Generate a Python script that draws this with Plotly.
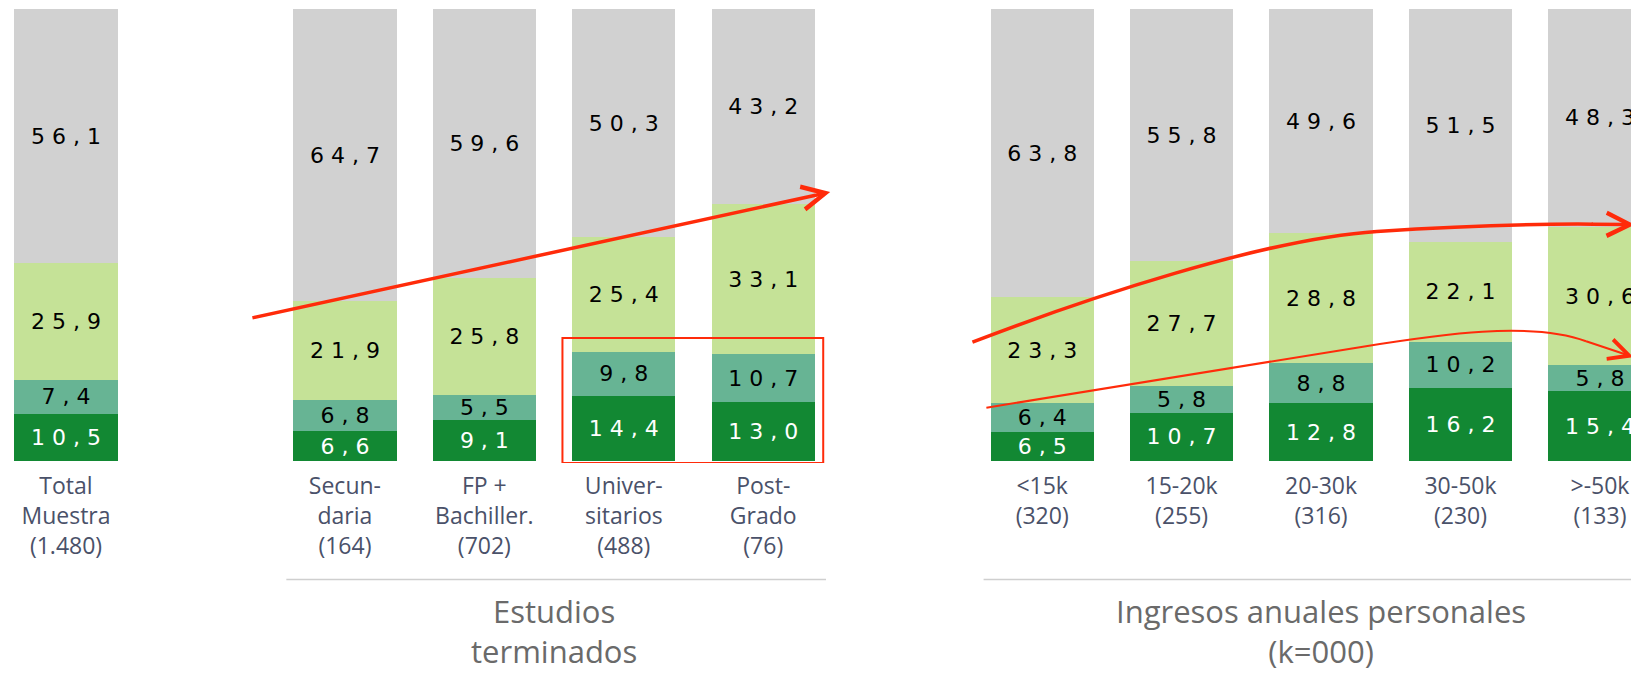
import plotly.graph_objects as go

# --- data -------------------------------------------------------------
labels = [
    "Total<br>Muestra<br>(1.480)",
    "Secun-<br>daria<br>(164)",
    "FP +<br>Bachiller.<br>(702)",
    "Univer-<br>sitarios<br>(488)",
    "Post-<br>Grado<br>(76)",
    "<15k<br>(320)",
    "15-20k<br>(255)",
    "20-30k<br>(316)",
    "30-50k<br>(230)",
    ">-50k<br>(133)",
]
group_sizes = [1, 4, 5]
group_titles = ["", "Estudios<br>terminados", "Ingresos anuales personales<br>(k=000)"]

seg_dark = [10.5, 6.6, 9.1, 14.4, 13.0, 6.5, 10.7, 12.8, 16.2, 15.4]
seg_teal = [7.4, 6.8, 5.5, 9.8, 10.7, 6.4, 5.8, 8.8, 10.2, 5.8]
seg_light = [25.9, 21.9, 25.8, 25.4, 33.1, 23.3, 27.7, 28.8, 22.1, 30.6]
seg_grey = [56.1, 64.7, 59.6, 50.3, 43.2, 63.8, 55.8, 49.6, 51.5, 48.3]

COLORS = {
    "dark": "#128833",
    "teal": "#67B494",
    "light": "#C5E297",
    "grey": "#D1D1D1",
    "red": "#FF2B0A",
    "tick": "#4A5169",
    "title": "#6A6A6A",
}

# x positions: one empty slot between groups
positions = []
group_pos = []
p = 0
for n in group_sizes:
    grp = list(range(p, p + n))
    positions += grp
    group_pos.append(grp)
    p += n + 1


def fmt(v):
    # comma decimals, tracked out like the original slide
    s = f"{v:.1f}".replace(".", ",")
    return "\u00a0".join(s)


fig = go.Figure()
series = [
    ("Segmento 1", seg_dark, COLORS["dark"], "white"),
    ("Segmento 2", seg_teal, COLORS["teal"], "black"),
    ("Segmento 3", seg_light, COLORS["light"], "black"),
    ("Segmento 4", seg_grey, COLORS["grey"], "black"),
]
for name, vals, col, txtcol in series:
    fig.add_trace(go.Bar(
        x=positions,
        y=vals,
        name=name,
        width=0.74,
        marker=dict(color=col, line=dict(width=0)),
        text=[fmt(v) for v in vals],
        textposition="inside",
        insidetextanchor="middle",
        textangle=0,
        textfont=dict(family="DejaVu Sans", size=22, color=txtcol),
        hoverinfo="skip",
    ))

# group divider lines and titles
title_y = {1: -0.371, 2: -0.371}
for gi, (grp, title) in enumerate(zip(group_pos, group_titles)):
    if not title:
        continue
    fig.add_shape(
        type="line", xref="x", yref="paper",
        x0=grp[0] - 0.42, x1=grp[-1] + 0.45,
        y0=-0.2566, y1=-0.2566,
        line=dict(color="#CFCFCF", width=1.5),
    )
    fig.add_annotation(
        x=(grp[0] + grp[-1]) / 2, xref="x",
        y=title_y[gi], yref="paper", yanchor="middle",
        text=title, showarrow=False,
        font=dict(family="Open Sans", size=31, color=COLORS["title"]),
    )

# red box around the two lower segments of Universitarios / Post-Grado
edu = group_pos[1]
box_top = max(seg_dark[i] + seg_teal[i] for i in (3, 4)) + 3
fig.add_shape(
    type="rect", xref="x", yref="y",
    x0=edu[2] - 0.44, x1=edu[3] + 0.43, y0=-0.44, y1=box_top,
    line=dict(color=COLORS["red"], width=2),
)

# education trend arrow
fig.add_annotation(
    x=5.48, y=59.5, ax=1.326, ay=31.6,
    xref="x", yref="y", axref="x", ayref="y",
    text="", showarrow=True, arrowhead=5, arrowsize=1.3,
    arrowwidth=3.5, arrowcolor=COLORS["red"],
)

# income trend curves
fig.add_shape(
    type="path", xref="x", yref="y",
    path="M 6.5,26.3 C 7.3,35.8 8.6,49.2 9.4,50.8 C 9.9,51.8 10.5,52.5 10.95,52.4",
    line=dict(color=COLORS["red"], width=3.5),
)
fig.add_annotation(
    x=11.25, y=52.3, ax=10.93, ay=52.4,
    xref="x", yref="y", axref="x", ayref="y",
    text="", showarrow=True, arrowhead=5, arrowsize=1.3,
    arrowwidth=3.5, arrowcolor=COLORS["red"],
)
fig.add_shape(
    type="path", xref="x", yref="y",
    path="M 6.6,11.8 L 9.3,25.3 C 9.85,28.0 10.5,31.0 10.9,26.5",
    line=dict(color=COLORS["red"], width=2),
)
fig.add_annotation(
    x=11.24, y=23.0, ax=10.89, ay=26.6,
    xref="x", yref="y", axref="x", ayref="y",
    text="", showarrow=True, arrowhead=5, arrowsize=2,
    arrowwidth=2, arrowcolor=COLORS["red"],
)

# the page body has an 8px margin: the figure is sized to fill the window
fig.update_layout(
    barmode="stack",
    width=1631, height=665,
    margin=dict(l=0, r=0, t=1, b=210),
    paper_bgcolor="white",
    plot_bgcolor="white",
    showlegend=False,
    uniformtext=dict(minsize=22, mode="show"),
    xaxis=dict(
        range=[-0.416, 11.28],
        tickvals=positions, ticktext=labels,
        showgrid=False, zeroline=False, showline=False, ticks="",
        ticklabelstandoff=7,
        tickfont=dict(family="Open Sans", size=23, color=COLORS["tick"]),
    ),
    yaxis=dict(
        range=[-0.44, 100], visible=False, showgrid=False, zeroline=False,
    ),
)

fig.write_html("out.html")
